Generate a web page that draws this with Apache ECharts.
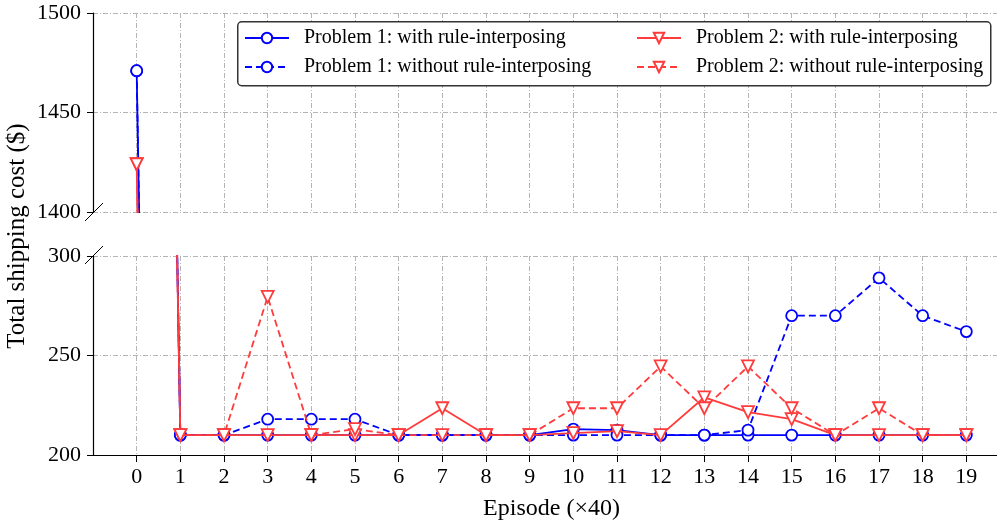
<!DOCTYPE html>
<html>
<head>
<meta charset="utf-8">
<script src="https://cdn.jsdelivr.net/npm/echarts@6/dist/echarts.min.js"></script>
<style>
html, body { margin: 0; padding: 0; background: #fff; }
#main { width: 997px; height: 523px; }
</style>
</head>
<body>
<div id="main"></div>
<script>
// episodes (x40)
var episodes = [0, 1, 2, 3, 4, 5, 6, 7, 8, 9, 10, 11, 12, 13, 14, 15, 16, 17, 18, 19];
var p1With    = [1471, 210, 210, 210, 210, 210, 210, 210, 210, 210, 213, 212.5, 210, 210, 210, 210, 210, 210, 210, 210];
var p1Without = [1471, 210, 210, 218, 218, 218, 210, 210, 210, 210, 210, 210, 210, 210, 212.5, 270, 270, 289, 270, 262];
var p2With    = [1424, 210, 210, 210, 210, 210, 210, 223.5, 210, 210, 211, 212, 210, 229, 221.5, 218, 210, 210, 210, 210];
var p2Without = [1424, 210, 210, 279.5, 210, 213, 210, 210, 210, 210, 223.5, 223.5, 244.5, 223.5, 244.5, 223.5, 210, 223.5, 210, 210];
var topTicks = [1400, 1450, 1500];
var bottomTicks = [200, 250, 300];

var FONT = 'Liberation Serif';
var BLUE = '#0000ff';
var RED = '#ff3b3b';
var gridDash = [5, 2, 1, 2];

function pairs(vals) {
	return episodes.map(function (e, i) { return [e, vals[i]]; });
}

var lineDefs = [
	{ name: 'Problem 1: with rule-interposing', data: p1With, color: BLUE, dashed: false, tri: false },
	{ name: 'Problem 1: without rule-interposing', data: p1Without, color: BLUE, dashed: true, tri: false },
	{ name: 'Problem 2: with rule-interposing', data: p2With, color: RED, dashed: false, tri: true },
	{ name: 'Problem 2: without rule-interposing', data: p2Without, color: RED, dashed: true, tri: true }
];

// same series drawn in both panels (broken y axis), each clipped to its grid
var series = [];
[0, 1].forEach(function (g) {
	lineDefs.forEach(function (d) {
		series.push({
			name: d.name,
			type: 'line',
			xAxisIndex: g,
			yAxisIndex: g,
			data: pairs(d.data),
			clip: true,
			symbol: d.tri ? 'triangle' : 'circle',
			symbolRotate: d.tri ? 180 : 0,
			symbolSize: d.tri ? 12 : 11,
			showAllSymbol: true,
			lineStyle: { color: d.color, width: 1.8, type: d.dashed ? [7, 4] : 'solid' },
			itemStyle: { color: '#fff', borderColor: d.color, borderWidth: 1.8 },
			emphasis: { disabled: true },
			z: d.tri ? 3 : 2
		});
	});
});

function xAxisDef(g) {
	return {
		type: 'value',
		gridIndex: g,
		min: -1,
		max: 20,
		interval: 1,
		name: g === 1 ? 'Episode (\u00d740)' : '',
		nameLocation: 'middle',
		nameGap: 42,
		nameTextStyle: { fontFamily: FONT, fontSize: 24, color: '#000' },
		axisLine: { show: g === 1, onZero: false, lineStyle: { color: '#000', width: 1.2 } },
		axisTick: { show: g === 1, length: 7, lineStyle: { color: '#000' }, customValues: episodes },
		axisLabel: {
			show: g === 1,
			fontFamily: FONT, fontSize: 22, color: '#000', margin: 11,
			customValues: episodes,
			formatter: function (v) { return String(v); }
		},
		splitLine: { show: true, lineStyle: { color: '#b4b4b4', type: gridDash, width: 1 } }
	};
}

function yAxisDef(g, ticks) {
	return {
		type: 'value',
		gridIndex: g,
		min: ticks[0],
		max: ticks[ticks.length - 1],
		interval: ticks[1] - ticks[0],
		axisLine: { show: true, onZero: false, lineStyle: { color: '#000', width: 1.2 } },
		axisTick: { show: true, length: 6, lineStyle: { color: '#000' } },
		axisLabel: {
			fontFamily: FONT, fontSize: 22, color: '#000', margin: 12,
			formatter: function (v) { return String(v); }
		},
		splitLine: { show: true, lineStyle: { color: '#b4b4b4', type: gridDash, width: 1 } }
	};
}

var legendText = { fontFamily: FONT, fontSize: 20, color: '#000', padding: [0, 0, 0, 10] };

var myChart = echarts.init(document.getElementById('main'));
var option = {
	animation: false,
	backgroundColor: '#fff',
	grid: [
		{ left: 93, width: 917, top: 13, height: 199, outerBoundsMode: 'none', containLabel: false },
		{ left: 93, width: 917, top: 256, height: 199, outerBoundsMode: 'none', containLabel: false }
	],
	xAxis: [xAxisDef(0), xAxisDef(1)],
	yAxis: [yAxisDef(0, topTicks), yAxisDef(1, bottomTicks)],
	legend: [
		{
			orient: 'vertical', left: 244, top: 28, padding: 0, itemWidth: 44, itemHeight: 13, itemGap: 9,
			data: [lineDefs[0].name, lineDefs[1].name], textStyle: legendText, z: 20
		},
		{
			orient: 'vertical', left: 636, top: 28, padding: 0, itemWidth: 44, itemHeight: 13, itemGap: 9,
			data: [lineDefs[2].name, lineDefs[3].name], textStyle: legendText, z: 20
		}
	],
	graphic: [
		{
			type: 'rect', z: 10, left: 237, top: 21,
			shape: { width: 753, height: 64, r: 4 },
			style: { fill: '#fff', stroke: '#333', lineWidth: 1.5 }
		},
		{
			type: 'text', rotation: Math.PI / 2,
			x: 17, y: 236,
			style: { text: 'Total shipping cost ($)', font: '25px "' + FONT + '"', fill: '#000', textAlign: 'center', textVerticalAlign: 'middle' }
		},
		// axis break marks
		{ type: 'line', shape: { x1: 85, y1: 221, x2: 103, y2: 203 }, style: { stroke: '#000', lineWidth: 1 }, z: 20 },
		{ type: 'line', shape: { x1: 85, y1: 264, x2: 103, y2: 246 }, style: { stroke: '#000', lineWidth: 1 }, z: 20 }
	],
	series: series
};
myChart.setOption(option);
</script>
</body>
</html>
